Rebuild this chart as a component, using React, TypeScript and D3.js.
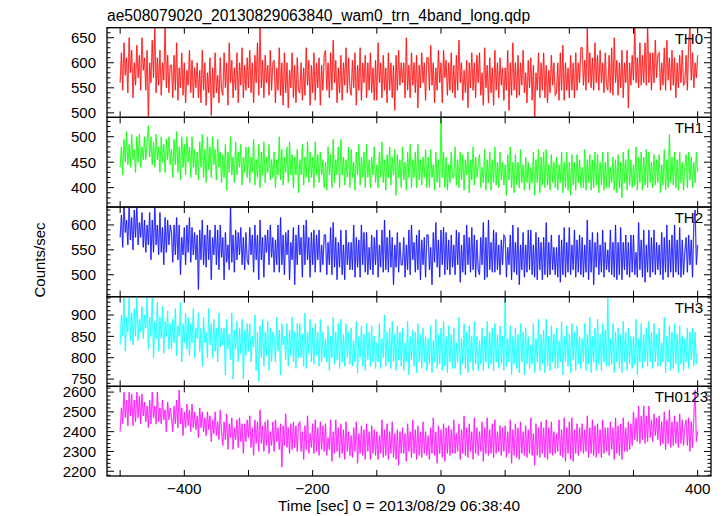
import React from "react";
import * as d3 from "d3";

const TITLE = "ae508079020_20130829063840_wam0_trn_4band_long.qdp";
const X_LABEL = "Time [sec] 0 = 2013/08/29 06:38:40";
const Y_LABEL = "Counts/sec";
const BAND_NAMES = ["TH0", "TH1", "TH2", "TH3", "TH0123"];
const BAND_COLORS = ["#ff0000", "#00ff00", "#0000ff", "#00ffff", "#ff00ff"];
const X_TICKS = [-500, -400, -300, -200, -100, 0, 100, 200, 300, 400];
const X_TICK_LABELS = [-400, -200, 0, 200, 400];
const TIME_START = -500;
const TIME_BIN = 2;

const TH0 = [
  560, 620, 545, 640, 575, 610, 540, 650, 580, 625, 530, 600, 555, 635, 570, 615, 545, 650, 585, 610,
  545, 625, 490, 600, 560, 645, 570, 675, 540, 610, 555, 625, 535, 600, 565, 675, 550, 615, 540, 595,
  595, 530, 615, 545, 640, 525, 590, 550, 620, 535, 600, 520, 585, 555, 625, 540, 605, 530, 590, 550,
  600, 530, 585, 520, 625, 545, 600, 515, 580, 540, 610, 495, 590, 530, 620, 540, 575, 520, 610, 545,
  535, 620, 550, 600, 515, 640, 560, 605, 530, 590, 545, 620, 520, 600, 555, 630, 530, 595, 545, 610,
  550, 625, 540, 600, 520, 615, 560, 640, 535, 670, 550, 605, 530, 615, 560, 595, 535, 625, 545, 600,
  605, 520, 590, 545, 630, 535, 600, 515, 620, 540, 600, 510, 585, 550, 620, 530, 595, 520, 610, 545,
  540, 600, 525, 590, 535, 630, 555, 605, 515, 595, 540, 620, 525, 600, 550, 610, 515, 595, 545, 615,
  625, 545, 600, 530, 620, 545, 645, 560, 605, 520, 590, 540, 615, 525, 600, 555, 630, 540, 610, 550,
  535, 605, 550, 620, 515, 595, 545, 630, 525, 600, 560, 615, 530, 600, 545, 620, 540, 590, 525, 605,
  525, 640, 560, 600, 530, 615, 545, 590, 520, 620, 545, 600, 530, 595, 505, 615, 545, 625, 555, 600,
  560, 600, 530, 650, 545, 595, 530, 620, 555, 600, 540, 615, 510, 595, 550, 620, 560, 600, 525, 610,
  610, 545, 635, 555, 600, 520, 590, 545, 625, 560, 600, 520, 625, 570, 605, 535, 600, 545, 620, 540,
  595, 530, 615, 545, 645, 560, 600, 525, 585, 540, 605, 510, 600, 550, 620, 545, 600, 530, 615, 560,
  620, 535, 580, 515, 630, 550, 595, 520, 610, 540, 590, 515, 625, 545, 600, 530, 610, 555, 590, 525,
  590, 545, 625, 505, 600, 535, 640, 545, 600, 530, 615, 535, 600, 555, 625, 540, 580, 520, 605, 550,
  610, 525, 595, 490, 580, 545, 620, 530, 600, 545, 620, 530, 595, 520, 585, 540, 615, 555, 600, 535,
  540, 600, 525, 620, 545, 635, 525, 600, 545, 590, 530, 615, 545, 600, 530, 620, 545, 600, 560, 630,
  630, 555, 605, 545, 670, 560, 620, 550, 610, 545, 640, 560, 615, 545, 625, 560, 600, 540, 620, 555,
  545, 615, 540, 630, 535, 650, 560, 605, 535, 600, 550, 625, 530, 600, 560, 625, 510, 600, 555, 615,
  565, 670, 560, 610, 550, 640, 555, 615, 560, 640, 555, 675, 560, 620, 545, 620, 560, 645, 570, 615,
  620, 545, 600, 555, 630, 545, 645, 565, 610, 545, 625, 555, 610, 530, 600, 550, 615, 560, 625, 555,
  560, 615, 545, 640, 670, 565, 620, 550, 600, 570, 615,
];

const TH1 = [
  440, 480, 425, 495, 450, 510, 445, 485, 440, 505, 455, 475, 430, 500, 450, 505, 440, 480, 455, 500,
  455, 490, 522, 460, 500, 445, 490, 440, 505, 455, 480, 430, 500, 450, 485, 430, 495, 455, 500, 445,
  475, 420, 495, 445, 510, 430, 480, 415, 500, 440, 485, 425, 500, 450, 480, 420, 500, 440, 475, 425,
  470, 415, 490, 440, 505, 420, 475, 410, 500, 435, 480, 420, 500, 445, 475, 415, 495, 440, 470, 410,
  465, 420, 485, 395, 470, 430, 500, 425, 460, 410, 490, 425, 470, 440, 485, 405, 460, 430, 480, 420,
  480, 410, 460, 430, 495, 405, 455, 420, 485, 400, 470, 425, 490, 410, 460, 430, 485, 415, 455, 420,
  470, 400, 455, 425, 500, 415, 475, 405, 460, 430, 480, 410, 490, 425, 465, 400, 460, 425, 475, 390,
  455, 425, 485, 405, 460, 420, 490, 410, 470, 420, 460, 400, 490, 425, 465, 410, 470, 425, 455, 400,
  450, 395, 480, 425, 465, 400, 495, 410, 455, 425, 480, 400, 495, 425, 460, 405, 455, 420, 480, 400,
  475, 420, 450, 395, 470, 425, 485, 405, 460, 420, 470, 400, 485, 420, 455, 400, 460, 425, 480, 410,
  445, 400, 470, 420, 490, 410, 455, 395, 465, 420, 480, 405, 460, 425, 475, 385, 465, 420, 455, 400,
  480, 415, 450, 395, 470, 420, 485, 400, 455, 420, 470, 400, 485, 415, 455, 405, 460, 420, 475, 400,
  460, 400, 475, 420, 445, 395, 470, 410, 455, 400, 540, 420, 470, 400, 460, 395, 445, 410, 470, 420,
  420, 480, 405, 455, 400, 470, 415, 465, 395, 455, 425, 470, 390, 455, 415, 480, 405, 460, 420, 445,
  465, 400, 440, 410, 475, 395, 455, 410, 470, 395, 455, 410, 480, 405, 450, 400, 470, 415, 450, 405,
  445, 385, 465, 415, 480, 400, 450, 390, 465, 405, 450, 400, 475, 410, 445, 395, 460, 410, 450, 395,
  440, 410, 470, 385, 455, 410, 475, 390, 460, 405, 470, 400, 475, 405, 445, 395, 465, 410, 450, 400,
  460, 395, 445, 410, 470, 390, 450, 400, 470, 395, 450, 385, 465, 405, 450, 395, 465, 410, 455, 400,
  440, 400, 475, 395, 455, 410, 465, 395, 455, 400, 470, 405, 465, 390, 450, 405, 470, 395, 450, 400,
  470, 400, 440, 410, 460, 395, 455, 390, 465, 400, 450, 380, 470, 410, 455, 395, 475, 405, 455, 400,
  445, 405, 480, 395, 460, 410, 470, 395, 460, 405, 475, 400, 470, 410, 450, 400, 465, 405, 455, 410,
  465, 390, 445, 405, 475, 395, 455, 400, 505, 410, 460, 405, 470, 400, 455, 395, 470, 410, 450, 395,
  440, 465, 400, 470, 415, 460, 400, 450, 410, 470, 430,
];

const TH2 = [
  575, 620, 555, 640, 585, 610, 560, 640, 570, 615, 550, 630, 575, 640, 560, 605, 575, 625, 555, 610,
  545, 600, 560, 625, 530, 610, 545, 640, 560, 600, 540, 625, 545, 595, 520, 615, 545, 610, 560, 600,
  585, 525, 600, 540, 615, 530, 600, 500, 575, 540, 595, 520, 600, 545, 615, 525, 595, 540, 585, 530,
  580, 470, 590, 530, 610, 520, 580, 515, 600, 530, 590, 490, 575, 540, 600, 520, 590, 510, 600, 535,
  575, 490, 585, 525, 560, 510, 640, 525, 580, 505, 590, 530, 585, 540, 595, 520, 575, 510, 585, 530,
  520, 595, 540, 580, 505, 600, 530, 580, 490, 610, 530, 575, 495, 580, 545, 590, 520, 600, 535, 575,
  505, 570, 520, 600, 505, 615, 520, 580, 500, 585, 540, 590, 490, 565, 530, 595, 480, 580, 520, 600,
  540, 575, 495, 600, 520, 610, 530, 575, 495, 585, 520, 590, 505, 580, 530, 590, 505, 560, 520, 580,
  580, 500, 565, 520, 595, 500, 605, 515, 575, 490, 565, 515, 590, 500, 560, 490, 590, 520, 565, 510,
  565, 510, 600, 495, 575, 515, 570, 495, 600, 520, 585, 505, 585, 500, 555, 510, 580, 500, 575, 520,
  590, 495, 560, 515, 590, 505, 610, 510, 575, 505, 590, 515, 575, 480, 560, 515, 585, 505, 565, 520,
  520, 575, 495, 560, 510, 590, 500, 600, 530, 565, 505, 580, 510, 590, 490, 570, 520, 575, 495, 580,
  580, 510, 555, 480, 585, 525, 605, 515, 570, 495, 590, 520, 595, 500, 585, 510, 570, 500, 580, 515,
  560, 500, 590, 520, 585, 485, 560, 505, 580, 500, 600, 520, 575, 505, 595, 510, 580, 495, 570, 510,
  500, 575, 520, 605, 490, 575, 495, 610, 510, 565, 505, 590, 505, 585, 510, 560, 500, 570, 520, 580,
  575, 495, 555, 520, 580, 490, 600, 505, 565, 500, 595, 480, 560, 510, 585, 495, 560, 505, 590, 510,
  590, 500, 560, 495, 585, 490, 575, 510, 565, 490, 575, 500, 605, 495, 565, 500, 580, 510, 555, 500,
  555, 495, 580, 485, 570, 500, 595, 495, 565, 505, 595, 500, 560, 510, 590, 495, 570, 505, 580, 500,
  575, 495, 560, 505, 610, 490, 570, 505, 585, 480, 565, 515, 585, 500, 560, 505, 590, 495, 565, 510,
  550, 505, 590, 500, 565, 495, 600, 490, 565, 500, 595, 490, 565, 510, 580, 500, 565, 495, 580, 505,
  580, 500, 545, 495, 605, 510, 570, 495, 590, 485, 560, 505, 590, 495, 575, 505, 590, 500, 565, 510,
  560, 500, 585, 490, 575, 505, 600, 495, 570, 505, 580, 495, 600, 505, 570, 500, 595, 495, 570, 500,
  545, 575, 505, 580, 520, 570, 495, 600, 630, 520, 560,
];

const TH3 = [
  830, 900, 850, 940, 815, 895, 860, 945, 840, 905, 830, 915, 850, 945, 840, 890, 860, 920, 845, 900,
  870, 945, 820, 895, 850, 940, 800, 885, 845, 930, 815, 895, 845, 920, 810, 885, 850, 910, 820, 880,
  820, 890, 835, 915, 805, 875, 850, 930, 790, 880, 835, 905, 820, 895, 805, 880, 835, 915, 800, 870,
  845, 905, 815, 870, 780, 895, 835, 860, 800, 915, 830, 880, 800, 890, 815, 870, 790, 905, 825, 870,
  830, 870, 760, 890, 820, 855, 795, 905, 750, 865, 820, 885, 790, 870, 810, 890, 750, 865, 805, 880,
  815, 880, 790, 850, 825, 900, 770, 860, 745, 875, 800, 890, 780, 860, 805, 885, 770, 870, 790, 860,
  850, 790, 895, 815, 865, 760, 880, 830, 850, 795, 880, 780, 865, 805, 895, 790, 860, 775, 880, 800,
  880, 800, 855, 780, 905, 775, 860, 810, 890, 790, 870, 785, 880, 805, 860, 780, 890, 790, 860, 800,
  845, 790, 875, 770, 850, 800, 895, 785, 860, 795, 880, 775, 890, 790, 855, 780, 880, 800, 860, 785,
  870, 780, 840, 790, 885, 765, 850, 800, 875, 780, 855, 770, 880, 795, 860, 780, 875, 790, 850, 775,
  835, 790, 880, 775, 845, 800, 900, 780, 860, 790, 870, 775, 885, 790, 855, 770, 875, 795, 860, 780,
  870, 770, 835, 790, 885, 760, 850, 795, 865, 780, 860, 765, 880, 790, 855, 775, 870, 790, 850, 770,
  845, 785, 875, 765, 840, 790, 890, 775, 855, 785, 870, 770, 885, 780, 850, 765, 875, 790, 855, 775,
  870, 775, 835, 790, 895, 760, 845, 785, 880, 775, 860, 765, 875, 790, 850, 770, 885, 785, 850, 770,
  840, 785, 870, 770, 850, 790, 885, 775, 860, 785, 870, 770, 880, 790, 855, 775, 875, 785, 850, 770,
  940, 780, 845, 790, 875, 760, 850, 785, 870, 775, 855, 765, 880, 790, 860, 760, 870, 785, 850, 775,
  830, 785, 880, 765, 845, 790, 890, 770, 855, 785, 865, 765, 890, 780, 850, 770, 875, 790, 855, 775,
  870, 775, 840, 790, 885, 760, 850, 790, 875, 780, 855, 765, 880, 795, 860, 770, 875, 785, 850, 775,
  845, 790, 880, 770, 855, 785, 895, 765, 850, 790, 870, 770, 890, 785, 855, 770, 880, 790, 865, 780,
  940, 780, 845, 785, 880, 765, 860, 790, 870, 775, 855, 765, 885, 790, 860, 770, 870, 785, 850, 775,
  850, 785, 890, 760, 845, 790, 880, 775, 855, 790, 870, 780, 885, 790, 860, 775, 880, 790, 855, 780,
  870, 780, 835, 790, 895, 765, 850, 790, 875, 770, 860, 775, 880, 785, 855, 765, 875, 785, 850, 770,
  845, 790, 870, 775, 860, 795, 870, 780, 860, 785, 810,
];

const TH0123 = [
  2400, 2520, 2440, 2600, 2470, 2560, 2430, 2600, 2480, 2590, 2430, 2560, 2450, 2600, 2470, 2580, 2440, 2590, 2480, 2550,
  2450, 2530, 2420, 2560, 2440, 2600, 2470, 2530, 2440, 2600, 2450, 2520, 2440, 2560, 2460, 2510, 2400, 2550, 2460, 2520,
  2470, 2400, 2530, 2440, 2560, 2420, 2610, 2440, 2520, 2380, 2500, 2420, 2540, 2430, 2510, 2400, 2540, 2420, 2500, 2410,
  2480, 2370, 2520, 2420, 2500, 2400, 2470, 2380, 2500, 2410, 2480, 2350, 2460, 2390, 2500, 2380, 2450, 2360, 2510, 2400,
  2330, 2450, 2360, 2490, 2310, 2440, 2370, 2470, 2310, 2420, 2360, 2460, 2320, 2470, 2350, 2440, 2290, 2440, 2350, 2460,
  2370, 2480, 2320, 2420, 2280, 2460, 2340, 2450, 2300, 2510, 2340, 2430, 2300, 2450, 2330, 2460, 2290, 2400, 2330, 2450,
  2300, 2460, 2350, 2420, 2310, 2440, 2220, 2430, 2330, 2490, 2320, 2420, 2290, 2440, 2310, 2450, 2320, 2430, 2300, 2440,
  2450, 2300, 2400, 2260, 2430, 2310, 2480, 2290, 2390, 2320, 2440, 2290, 2460, 2300, 2420, 2280, 2450, 2310, 2430, 2300,
  2440, 2280, 2370, 2310, 2460, 2250, 2400, 2290, 2460, 2300, 2420, 2270, 2440, 2290, 2410, 2260, 2450, 2300, 2400, 2280,
  2380, 2270, 2420, 2300, 2450, 2240, 2390, 2290, 2430, 2280, 2410, 2260, 2440, 2300, 2400, 2260, 2430, 2290, 2410, 2280,
  2400, 2260, 2380, 2290, 2460, 2270, 2410, 2280, 2440, 2260, 2400, 2290, 2450, 2270, 2390, 2260, 2410, 2230, 2400, 2290,
  2420, 2290, 2390, 2250, 2440, 2300, 2400, 2270, 2460, 2290, 2410, 2260, 2430, 2280, 2400, 2270, 2450, 2290, 2400, 2280,
  2380, 2260, 2420, 2290, 2470, 2280, 2400, 2240, 2430, 2290, 2410, 2270, 2440, 2250, 2420, 2290, 2430, 2280, 2410, 2290,
  2460, 2290, 2390, 2300, 2440, 2260, 2410, 2290, 2480, 2280, 2420, 2270, 2440, 2300, 2400, 2260, 2470, 2290, 2420, 2280,
  2400, 2300, 2450, 2250, 2420, 2290, 2470, 2280, 2410, 2290, 2440, 2270, 2460, 2290, 2400, 2300, 2430, 2280, 2420, 2300,
  2430, 2270, 2400, 2290, 2460, 2240, 2410, 2280, 2440, 2270, 2420, 2260, 2450, 2290, 2400, 2280, 2430, 2270, 2410, 2290,
  2470, 2280, 2390, 2230, 2440, 2280, 2420, 2270, 2450, 2290, 2420, 2270, 2460, 2260, 2420, 2290, 2450, 2280, 2400, 2290,
  2390, 2300, 2460, 2280, 2410, 2270, 2470, 2250, 2420, 2290, 2450, 2260, 2470, 2250, 2410, 2290, 2440, 2280, 2420, 2300,
  2440, 2290, 2410, 2300, 2480, 2270, 2420, 2290, 2460, 2280, 2430, 2270, 2440, 2290, 2410, 2270, 2460, 2290, 2420, 2300,
  2420, 2280, 2450, 2310, 2420, 2260, 2470, 2290, 2430, 2280, 2440, 2260, 2470, 2300, 2420, 2300, 2450, 2310, 2440, 2330,
  2500, 2360, 2470, 2350, 2530, 2340, 2480, 2360, 2530, 2340, 2480, 2350, 2530, 2370, 2460, 2350, 2490, 2380, 2470, 2360,
  2480, 2330, 2450, 2340, 2500, 2310, 2460, 2340, 2510, 2320, 2450, 2330, 2480, 2340, 2450, 2320, 2490, 2340, 2460, 2330,
  2420, 2460, 2330, 2470, 2300, 2450, 2320, 2470, 2610, 2350, 2400,
];

const SERIES = [TH0, TH1, TH2, TH3, TH0123];
const Y_DOMAINS: [number, number][] = [
  [491, 670],
  [362, 538],
  [456, 636],
  [733, 943],
  [2176, 2629],
];
const Y_MAJOR = [
  [500, 550, 600, 650],
  [400, 450, 500],
  [500, 550, 600],
  [750, 800, 850, 900],
  [2200, 2300, 2400, 2500, 2600],
];
const Y_MINOR_STEP = [10, 10, 10, 10, 20];

const W = 724;
const H = 516;
const LEFT = 107;
const RIGHT = 711;
const TOP = 27.7;
const BOTTOM = 476;
const FONT = "'Liberation Sans', Arial, Helvetica, sans-serif";

export default function App() {
  const x = d3.scaleLinear().domain([-520.5, 420.8]).range([LEFT, RIGHT]);
  const panelH = (BOTTOM - TOP) / SERIES.length;
  const fmtX = (v: number) => (v < 0 ? "\u2212" + Math.abs(v) : String(v));

  return (
    <svg
      width={W}
      height={H}
      style={{ position: "absolute", left: 0, top: 0, background: "#fff" }}
      fontFamily={FONT}
    >
      <defs>
        {SERIES.map((_, k) => (
          <clipPath id={`clip${k}`} key={k}>
            <rect x={LEFT} y={TOP + k * panelH} width={RIGHT - LEFT} height={panelH} />
          </clipPath>
        ))}
      </defs>
      <text x={LEFT} y={20.5} fontSize={15.6} fill="#000">
        {TITLE}
      </text>
      {SERIES.map((vals, k) => {
        const y0 = TOP + k * panelH;
        const y1 = y0 + panelH;
        const y = d3.scaleLinear().domain(Y_DOMAINS[k]).range([y1, y0]);
        const line = d3
          .line<number>()
          .x((_, i) => x(TIME_START + i * TIME_BIN))
          .y((v) => y(v));
        const [dmin, dmax] = Y_DOMAINS[k];
        const step = Y_MINOR_STEP[k];
        const minors = d3
          .range(Math.ceil(dmin / step) * step, dmax + 0.001, step)
          .filter((v) => !Y_MAJOR[k].includes(v));
        const d = line(vals) || "";
        return (
          <g key={k}>
            <g clipPath={`url(#clip${k})`}>
              <path d={d} fill="none" stroke={BAND_COLORS[k]} strokeOpacity={0.3} strokeWidth={1.5} />
              <path d={d} fill="none" stroke={BAND_COLORS[k]} strokeWidth={0.7} />
            </g>
            {Y_MAJOR[k].map((v) => (
              <g key={"M" + v}>
                <line x1={LEFT} x2={LEFT + 7} y1={y(v)} y2={y(v)} stroke="#000" strokeWidth={1} />
                <line x1={RIGHT} x2={RIGHT - 7} y1={y(v)} y2={y(v)} stroke="#000" strokeWidth={1} />
                <text x={96} y={y(v)} dy="0.36em" textAnchor="end" fontSize={15} fill="#000">
                  {v}
                </text>
              </g>
            ))}
            {minors.map((v) => (
              <g key={"m" + v}>
                <line x1={LEFT} x2={LEFT + 3.5} y1={y(v)} y2={y(v)} stroke="#000" strokeWidth={1} />
                <line x1={RIGHT} x2={RIGHT - 3.5} y1={y(v)} y2={y(v)} stroke="#000" strokeWidth={1} />
              </g>
            ))}
            {X_TICKS.map((t) => (
              <g key={"x" + t}>
                <line x1={x(t)} x2={x(t)} y1={y0} y2={y0 + 6} stroke="#000" strokeWidth={1} />
                <line x1={x(t)} x2={x(t)} y1={y1} y2={y1 - 6} stroke="#000" strokeWidth={1} />
              </g>
            ))}
            <rect
              x={LEFT}
              y={y0}
              width={RIGHT - LEFT}
              height={panelH}
              fill="none"
              stroke="#000"
              strokeWidth={1.3}
            />
            <text x={k === 4 ? 708 : 703} y={y0 + 16} textAnchor="end" fontSize={15} fill="#000">
              {BAND_NAMES[k]}
            </text>
          </g>
        );
      })}
      {X_TICK_LABELS.map((t) => (
        <text key={t} x={x(t)} y={494} textAnchor="middle" fontSize={15.3} fill="#000">
          {fmtX(t)}
        </text>
      ))}
      <text x={399} y={511} textAnchor="middle" fontSize={15.4} fill="#000">
        {X_LABEL}
      </text>
      <text transform="translate(45,260) rotate(-90)" textAnchor="middle" fontSize={15} fill="#000">
        {Y_LABEL}
      </text>
    </svg>
  );
}
